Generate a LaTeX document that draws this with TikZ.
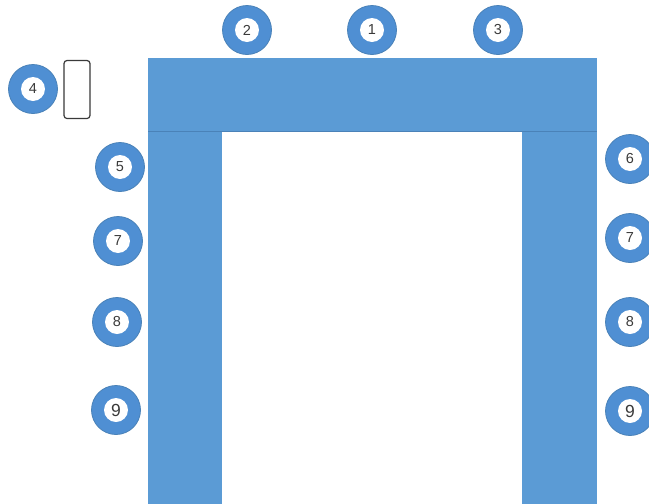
\documentclass[tikz,border=0pt]{standalone}
\usepackage{fontspec}
\setmainfont{Liberation Sans}
\definecolor{frameblue}{HTML}{5B9BD5}
\definecolor{edgeblue}{HTML}{4A82B8}
\definecolor{ringblue}{HTML}{4F8FD3}
\definecolor{numgray}{HTML}{3A3A3A}
\begin{document}
\begin{tikzpicture}[x=1pt,y=-1pt,
  ring/.style={circle,fill=ringblue,draw=edgeblue,line width=0.8pt,minimum size=49pt,inner sep=0pt},
  hole/.style={circle,fill=white,minimum size=24pt,inner sep=0pt,text=numgray,font=\fontsize{14.5}{14.5}\selectfont},
  bigfont/.style={font=\fontsize{17.5}{17.5}\selectfont},
  bar/.style={fill=frameblue,draw=none}]
\useasboundingbox (0,0) rectangle (649,504);
\fill[white] (0,0) rectangle (649,504);
% frame
\path[bar] (148,58) rectangle (597,131);
\path[bar] (148,131) rectangle (222,504);
\path[bar] (522,131) rectangle (597,504);
\coordinate (tl) at (148,131);
\coordinate (tr) at (597,131);
\draw[edgeblue,line width=1pt] (tl) -- (tr);
% small rectangle
\node[draw=numgray,line width=1.2pt,rounded corners=3pt,minimum width=26pt,minimum height=58pt,inner sep=0pt,fill=white] (box) at (77,89.5) {};
% numbered markers
\newcommand{\marker}[4][]{%
  \node[ring] (r#2) at (#3) {};
  \node[hole,#1] (n#2) at (r#2.center) {#4};}
\marker{c1}{372,30}{1}
\marker{c2}{247,30}{2}
\marker{c3}{498,30}{3}
\marker{c4}{33,89}{4}
\marker{c5}{120,167}{5}
\marker{c7l}{118,241}{7}
\marker{c8l}{117,322}{8}
\marker[bigfont]{c9l}{116,410}{9}
\marker{c6}{630,159}{6}
\marker{c7r}{630,238}{7}
\marker{c8r}{630,322}{8}
\marker[bigfont]{c9r}{630,411}{9}
\end{tikzpicture}
\end{document}
